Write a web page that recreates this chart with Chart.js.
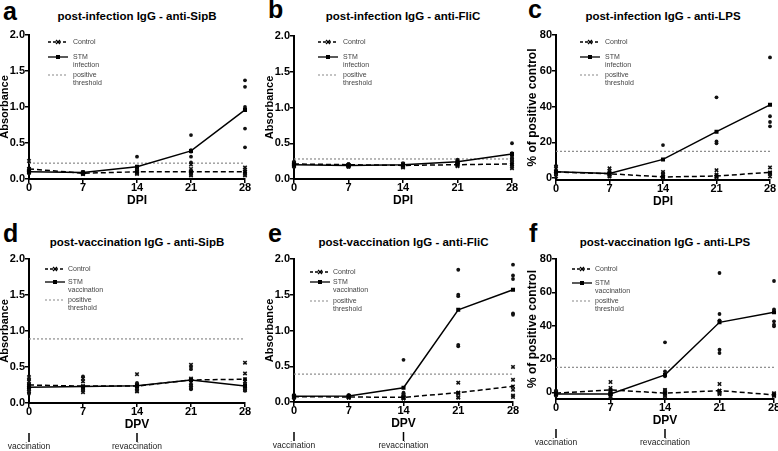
<!DOCTYPE html>
<html>
<head>
<meta charset="utf-8">
<script src="https://cdn.jsdelivr.net/npm/chart.js@4.4.0/dist/chart.umd.min.js"></script>
<style>
  body { margin: 0; width: 778px; height: 451px; overflow: hidden; background: #fff; position: relative;
         font-family: "Liberation Sans", Arial, sans-serif; }
  .panel { position: absolute; }
  .letter { position: absolute; font-weight: bold; font-size: 25px; line-height: 25px; }
  .title { position: absolute; font-weight: bold; font-size: 11.5px; line-height: 14px; text-align: center; white-space: nowrap; }
</style>
</head>
<body>

<div class="letter" style="left:3px;top:-1px">a</div>
<div class="letter" style="left:268px;top:-3px">b</div>
<div class="letter" style="left:528px;top:-3px">c</div>
<div class="letter" style="left:3px;top:221px">d</div>
<div class="letter" style="left:268px;top:221px">e</div>
<div class="letter" style="left:529px;top:221px">f</div>

<div id="titles"></div>

<div class="panel" id="pa"><canvas id="ca"></canvas></div>
<div class="panel" id="pb"><canvas id="cb"></canvas></div>
<div class="panel" id="pc"><canvas id="cc"></canvas></div>
<div class="panel" id="pd"><canvas id="cd"></canvas></div>
<div class="panel" id="pe"><canvas id="ce"></canvas></div>
<div class="panel" id="pf"><canvas id="cf"></canvas></div>

<script>
const days = [0, 7, 14, 21, 28];
const absTicks = [0, 0.5, 1.0, 1.5, 2.0];
const absTickLabels = ['0.0', '0.5', '1.0', '1.5', '2.0'];
const pctTicks = [0, 20, 40, 60, 80];
const pctTickLabels = ['0', '20', '40', '60', '80'];
const vaccDays = [0, 14];
const vaccLabels = ['vaccination', 'revaccination'];

// a - post-infection SipB
const aCtrlMean = [0.14, 0.08, 0.10, 0.10, 0.10];
const aStmMean = [0.10, 0.09, 0.17, 0.39, 0.96];
const aThreshold = 0.22;
const aCtrlPts = [[0.25, 0.14, 0.12, 0.10, 0.09], [0.09, 0.08, 0.07, 0.07, 0.08], [0.14, 0.11, 0.09, 0.08, 0.07],
                  [0.20, 0.14, 0.10, 0.07, 0.05], [0.16, 0.13, 0.10, 0.07, 0.05]];
const aStmPts = [[0.12, 0.10, 0.09, 0.08, 0.11], [0.10, 0.09, 0.08, 0.07, 0.09], [0.31, 0.17, 0.14, 0.12, 0.11],
                 [0.61, 0.40, 0.38, 0.31, 0.23], [1.37, 1.28, 1.00, 0.70, 0.44]];

// b - post-infection FliC
const bCtrlMean = [0.21, 0.20, 0.19, 0.20, 0.21];
const bStmMean = [0.20, 0.19, 0.20, 0.24, 0.35];
const bThreshold = 0.28;
const bCtrlPts = [[0.23, 0.21, 0.20, 0.19, 0.18], [0.20, 0.19, 0.18, 0.17, 0.19], [0.21, 0.19, 0.18, 0.17, 0.16],
                  [0.22, 0.21, 0.20, 0.19, 0.18], [0.27, 0.23, 0.20, 0.17, 0.15]];
const bStmPts = [[0.24, 0.21, 0.20, 0.18, 0.17], [0.21, 0.19, 0.18, 0.18, 0.17], [0.22, 0.20, 0.19, 0.18, 0.17],
                 [0.27, 0.25, 0.23, 0.22, 0.21], [0.50, 0.36, 0.31, 0.29, 0.27]];

// c - post-infection LPS
const cCtrlMean = [3.5, 2.5, 0.7, 1.2, 3.3];
const cStmMean = [3.6, 2.6, 10.5, 26, 41];
const cThreshold = 15;
const cCtrlPts = [[6.5, 4, 2.5, 1], [5.5, 4, 2, 1], [3.5, 2, 1, 0.5], [4.5, 2, 1, 0.5], [6, 3, 2.5, 1]];
const cStmPts = [[6.5, 3, 2], [3.5, 2.5, 1], [18.5, 3, 1.5], [45.2, 20.5, 19.5, 1.5], [67.5, 34.6, 31.4, 29]];

// d - post-vaccination SipB
const dCtrlMean = [0.25, 0.235, 0.235, 0.32, 0.33];
const dStmMean = [0.22, 0.23, 0.24, 0.32, 0.235];
const dThreshold = 0.89;
const dCtrlPts = [[0.36, 0.30, 0.24, 0.19, 0.16], [0.34, 0.30, 0.20, 0.18, 0.15], [0.40, 0.25, 0.20, 0.17, 0.16],
                  [0.53, 0.34, 0.28, 0.24, 0.21], [0.56, 0.41, 0.30, 0.20, 0.18]];
const dStmPts = [[0.33, 0.26, 0.19, 0.15, 0.13], [0.37, 0.22, 0.20, 0.19, 0.17], [0.28, 0.26, 0.24, 0.22, 0.20],
                 [0.50, 0.47, 0.24, 0.20, 0.19], [0.33, 0.27, 0.20, 0.18, 0.17]];

// e - post-vaccination FliC
const eCtrlMean = [0.075, 0.07, 0.065, 0.13, 0.22];
const eStmMean = [0.08, 0.085, 0.20, 1.29, 1.57];
const eThreshold = 0.39;
const eCtrlPts = [[0.09, 0.08, 0.07, 0.07, 0.06], [0.08, 0.07, 0.07, 0.06, 0.06], [0.10, 0.07, 0.06, 0.05, 0.05],
                  [0.27, 0.13, 0.12, 0.07, 0.06], [0.49, 0.31, 0.17, 0.09, 0.07]];
const eStmPts = [[0.09, 0.08, 0.08, 0.07, 0.07], [0.10, 0.09, 0.08, 0.08, 0.07], [0.59, 0.13, 0.11, 0.09, 0.08],
                 [1.85, 1.50, 1.48, 0.80, 0.78], [1.92, 1.77, 1.72, 1.24, 1.22]];

// f - post-vaccination LPS
const fCtrlMean = [-0.5, 1.5, -0.5, 1.0, -1.5];
const fStmMean = [-1, -1, 10.5, 42, 48];
const fThreshold = 15;
const fCtrlPts = [[0.6, 0, -0.5, -1, -1.4], [6.2, 2.6, 0.6, -0.5, -1.4], [1.4, 0.5, -0.4, -2.4, -1.6],
                  [5, 1, 0, -0.5, -1], [-0.5, -1, -1.5, -1.8, -2.2]];
const fStmPts = [[0.5, -0.5, -1, -1.5, -2], [0.5, -1, -1.5, -2, -3], [30, 12.6, 9.6, 1.4, -0.4],
                 [71.6, 47, 43.2, 25.6, 23.6], [66.8, 49.8, 42.6, 40.6, 39.6]];

const FONT = '"Liberation Sans", Arial, sans-serif';
Chart.defaults.font.family = FONT;
Chart.defaults.color = '#000';

const Wy = 31, padTop = 8, Hx = 29;

const panels = [
  { id: 'a', title: 'post-infection IgG - anti-SipB', xTitle: 'DPI', stmWord: 'infection',
    ctrl: aCtrlMean, stm: aStmMean, thr: aThreshold, ctrlPts: aCtrlPts, stmPts: aStmPts,
    yMin: 0, yMax: 2, ticks: absTicks, tickLabels: absTickLabels, yTitle: 'Absorbance', yFont: 11,
    L: 29, T: 35, R: 245, B: 179, padR: 12, vacc: false,
    lg: { sx: 19, tx: 44, r: [7, 22, 40] } },
  { id: 'b', title: 'post-infection IgG - anti-FliC', xTitle: 'DPI', stmWord: 'infection',
    ctrl: bCtrlMean, stm: bStmMean, thr: bThreshold, ctrlPts: bCtrlPts, stmPts: bStmPts,
    yMin: 0, yMax: 2, ticks: absTicks, tickLabels: absTickLabels, yTitle: 'Absorbance', yFont: 11,
    L: 294, T: 36, R: 512, B: 179, padR: 12, vacc: false,
    lg: { sx: 24, tx: 49, r: [6, 21, 39] } },
  { id: 'c', title: 'post-infection IgG - anti-LPS', xTitle: 'DPI', stmWord: 'infection',
    ctrl: cCtrlMean, stm: cStmMean, thr: cThreshold, ctrlPts: cCtrlPts, stmPts: cStmPts,
    yMin: -1, yMax: 80, ticks: pctTicks, tickLabels: pctTickLabels, yTitle: '% of positive control', yFont: 12,
    L: 556, T: 35, R: 770, B: 180, padR: 10, vacc: false,
    lg: { sx: 24, tx: 49, r: [7, 22, 40] } },
  { id: 'd', title: 'post-vaccination IgG - anti-SipB', xTitle: 'DPV', stmWord: 'vaccination',
    ctrl: dCtrlMean, stm: dStmMean, thr: dThreshold, ctrlPts: dCtrlPts, stmPts: dStmPts,
    yMin: 0, yMax: 2, ticks: absTicks, tickLabels: absTickLabels, yTitle: 'Absorbance', yFont: 11,
    L: 29, T: 259, R: 245, B: 403, padR: 12, vacc: true,
    lg: { sx: 16, tx: 39, r: [10, 23, 41] } },
  { id: 'e', title: 'post-vaccination IgG - anti-FliC', xTitle: 'DPV', stmWord: 'vaccination',
    ctrl: eCtrlMean, stm: eStmMean, thr: eThreshold, ctrlPts: eCtrlPts, stmPts: eStmPts,
    yMin: 0, yMax: 2, ticks: absTicks, tickLabels: absTickLabels, yTitle: 'Absorbance', yFont: 11,
    L: 294, T: 259, R: 513, B: 402, padR: 12, vacc: true,
    lg: { sx: 16, tx: 39, r: [13, 23, 42] } },
  { id: 'f', title: 'post-vaccination IgG - anti-LPS', xTitle: 'DPV', stmWord: 'vaccination',
    ctrl: fCtrlMean, stm: fStmMean, thr: fThreshold, ctrlPts: fCtrlPts, stmPts: fStmPts,
    yMin: -4, yMax: 80, ticks: pctTicks, tickLabels: pctTickLabels, yTitle: '% of positive control', yFont: 12,
    L: 556, T: 259, R: 774, B: 399, padR: 10, vacc: true,
    lg: { sx: 16, tx: 39, r: [10, 24, 42] } }
];

function scatterPts(perDay) {
  const out = [];
  perDay.forEach((vals, i) => vals.forEach(v => out.push({ x: days[i], y: v })));
  return out;
}
function meanPts(vals) { return vals.map((v, i) => ({ x: days[i], y: v })); }

function seg(ctx, x0, y0, x1, y1) { ctx.beginPath(); ctx.moveTo(x0, y0); ctx.lineTo(x1, y1); ctx.stroke(); }

function extrasPlugin(p) {
  return {
    id: 'extras',
    afterDraw(chart) {
      const ctx = chart.ctx, area = chart.chartArea;
      const x0 = area.left + p.lg.sx, x1 = x0 + 20, xm = (x0 + x1) / 2, tx = area.left + p.lg.tx;
      const r = p.lg.r.map(v => area.top + v);
      ctx.save();
      ctx.strokeStyle = '#000';
      ctx.lineWidth = 1.3;
      ctx.setLineDash([3, 2]);
      seg(ctx, x0, r[0], x1, r[0]);
      ctx.setLineDash([]);
      seg(ctx, xm - 2, r[0] - 2, xm + 2, r[0] + 2);
      seg(ctx, xm - 2, r[0] + 2, xm + 2, r[0] - 2);
      seg(ctx, x0, r[1], x1, r[1]);
      ctx.fillStyle = '#000';
      ctx.fillRect(xm - 2, r[1] - 2, 4, 4);
      ctx.strokeStyle = '#888';
      ctx.lineWidth = 1;
      ctx.setLineDash([2, 2]);
      seg(ctx, x0, r[2], x1, r[2]);
      ctx.setLineDash([]);
      ctx.fillStyle = '#444';
      ctx.font = '7px ' + FONT;
      ctx.textBaseline = 'middle';
      ctx.textAlign = 'left';
      ctx.fillText('Control', tx, r[0]);
      ctx.fillText('STM', tx, r[1]);
      ctx.fillText(p.stmWord, tx, r[1] + 8);
      ctx.fillText('positive', tx, r[2]);
      ctx.fillText('threshold', tx, r[2] + 8);

      if (p.vacc) {
        const xs = chart.scales.x, yb = area.bottom;
        ctx.strokeStyle = '#000';
        ctx.lineWidth = 1.5;
        ctx.fillStyle = '#222';
        ctx.font = '8.5px ' + FONT;
        ctx.textAlign = 'center';
        vaccDays.forEach((d, i) => {
          const px = xs.getPixelForValue(d);
          seg(ctx, px, yb + 30, px, yb + 39);
          ctx.fillText(vaccLabels[i], px, yb + 44);
        });
      }
      ctx.restore();
    }
  };
}

const titlesDiv = document.getElementById('titles');

panels.forEach(p => {
  const t = document.createElement('div');
  t.className = 'title';
  t.textContent = p.title;
  t.style.left = p.L + 'px';
  t.style.width = (p.R - p.L) + 'px';
  t.style.top = (p.T < 100 ? 9 : 235) + 'px';
  titlesDiv.appendChild(t);

  const extraB = p.vacc ? 22 : 4;
  const box = document.getElementById('p' + p.id);
  box.style.left = (p.L - Wy) + 'px';
  box.style.top = (p.T - padTop) + 'px';
  box.style.width = (Wy + p.R - p.L + p.padR) + 'px';
  box.style.height = (padTop + p.B - p.T + Hx + extraB) + 'px';

  new Chart(document.getElementById('c' + p.id), {
    type: 'scatter',
    data: {
      datasets: [
        { data: [{ x: 0, y: p.thr }, { x: 28, y: p.thr }], showLine: true, borderColor: '#8a8a8a',
          borderWidth: 1.2, borderDash: [2, 2], pointRadius: 0, order: 5 },
        { data: scatterPts(p.ctrlPts), pointStyle: 'crossRot', pointRadius: 2.4, borderColor: '#111',
          borderWidth: 1.6, clip: false, order: 4 },
        { data: scatterPts(p.stmPts), pointStyle: 'circle', pointRadius: 1.9, backgroundColor: '#111',
          borderWidth: 0, clip: false, order: 3 },
        { data: meanPts(p.ctrl), showLine: true, borderColor: '#000', borderWidth: 1.5, borderDash: [5, 3],
          pointStyle: 'crossRot', pointRadius: 2.3, pointBorderWidth: 1.4, clip: false, order: 2 },
        { data: meanPts(p.stm), showLine: true, borderColor: '#000', backgroundColor: '#000', borderWidth: 1.5,
          pointStyle: 'rect', pointRadius: 1.8, clip: false, order: 1 }
      ]
    },
    options: {
      responsive: true,
      maintainAspectRatio: false,
      animation: false,
      events: [],
      layout: { padding: { top: padTop, right: p.padR, bottom: extraB, left: 0 } },
      plugins: { legend: { display: false }, tooltip: { enabled: false } },
      scales: {
        x: {
          type: 'linear', min: 0, max: 28,
          afterBuildTicks: s => { s.ticks = days.map(v => ({ value: v })); },
          afterFit: s => { s.height = Hx; },
          ticks: { font: { size: 11, weight: 'bold', lineHeight: 1 }, color: '#000', padding: -1,
                   autoSkip: false, maxRotation: 0 },
          grid: { drawOnChartArea: false, drawTicks: true, tickLength: 4, color: '#000', lineWidth: 1.5 },
          border: { color: '#000', width: 2 },
          title: { display: true, text: p.xTitle, font: { size: 12, weight: 'bold' }, padding: 0, color: '#000' }
        },
        y: {
          min: p.yMin, max: p.yMax,
          afterBuildTicks: s => { s.ticks = p.ticks.map(v => ({ value: v })); },
          afterFit: s => { s.width = Wy; },
          ticks: { font: { size: 11, weight: 'bold' }, color: '#000', padding: 0,
                   callback: (v, i) => p.tickLabels[i] },
          grid: { drawOnChartArea: false, drawTicks: true, tickLength: 4, color: '#000', lineWidth: 1.5 },
          border: { color: '#000', width: 2 },
          title: { display: true, text: p.yTitle, font: { size: p.yFont, weight: 'bold' }, padding: 0, color: '#000' }
        }
      }
    },
    plugins: [extrasPlugin(p)]
  });
});
</script>
</body>
</html>
